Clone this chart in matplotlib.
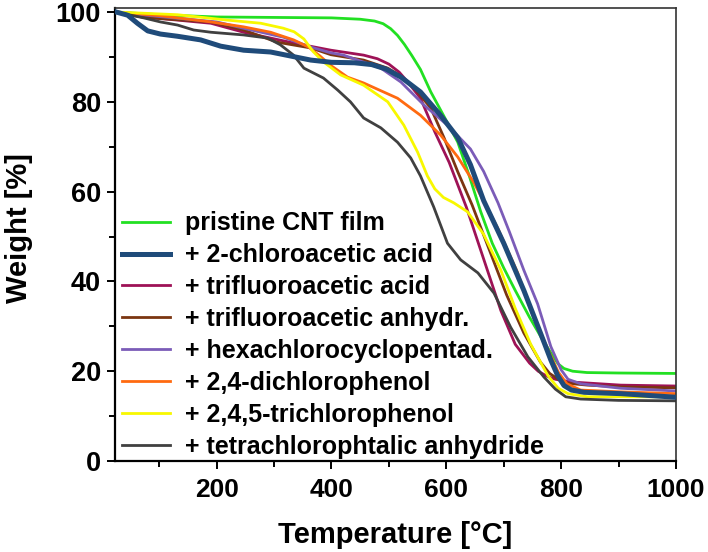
"""TGA curves of pristine and doped CNT films."""
import matplotlib
matplotlib.use("Agg")
import matplotlib.pyplot as plt
from matplotlib.ticker import MultipleLocator

plt.rcParams["font.family"] = ["Liberation Sans", "DejaVu Sans"]
plt.rcParams["font.weight"] = "bold"

LABELS = [
    "pristine CNT film",
    "+ 2-chloroacetic acid",
    "+ trifluoroacetic acid",
    "+ trifluoroacetic anhydr.",
    "+ hexachlorocyclopentad.",
    "+ 2,4-dichlorophenol",
    "+ 2,4,5-trichlorophenol",
    "+ tetrachlorophtalic anhydride",
]
COLORS = ["#22e022", "#1f4b7a", "#9e1256", "#7b3511", "#7b5cb8",
          "#ff6a10", "#f8f800", "#404040"]
WIDTHS = [2.0, 3.6, 2.0, 2.0, 2.0, 2.0, 2.0, 2.0]

# temperature [C] / weight [%]
t_pristine = [25, 100, 200, 300, 400, 450, 475, 490, 503, 515, 527, 540, 555,
              573, 595, 620, 640, 660, 680, 700, 720, 745, 770, 785, 795, 805,
              820, 845, 900, 1000]
w_pristine = [100, 99.4, 98.9, 98.8, 98.7, 98.4, 98.0, 97.4, 96.3, 94.8, 92.8,
              90.3, 87.2, 82.2, 77, 71, 63.5, 55.5, 48.5, 43, 38, 32, 26.5, 23.5,
              21.6, 20.6, 20.0, 19.7, 19.6, 19.5]

t_chloroacetic = [25, 45, 62, 80, 102, 132, 172, 207, 247, 294, 329, 364, 400,
                  440, 470, 495, 521, 555, 590, 620, 642, 665, 700, 735, 764,
                  782, 794, 805, 818, 840, 904, 1000]
w_chloroacetic = [100, 99.3, 97.5, 95.8, 95.1, 94.6, 93.8, 92.4, 91.5, 91.1,
                  90.2, 89.3, 88.8, 88.7, 88.3, 87.3, 85.5, 82.2, 77, 72, 66,
                  58, 48.5, 38, 28.5, 22.5, 19.0, 16.8, 15.8, 15.3, 15.0, 14.2]

t_tfa = [25, 73, 132, 190, 247, 294, 334, 399, 456, 480, 500, 518, 533, 555,
         580, 605, 635, 665, 695, 720, 745, 760, 775, 790, 817, 904, 1000]
w_tfa = [100, 98.9, 98.2, 97.5, 95.5, 94.2, 93.1, 91.5, 90.4, 89.6, 88.4, 86.6,
         84.4, 80.8, 73.3, 66.5, 56.5, 45, 33.5, 26, 21.8, 20.0, 18.9, 18.2,
         17.6, 16.9, 16.7]

t_tfaa = [25, 73, 190, 247, 305, 364, 399, 456, 498, 520, 543, 573, 596, 620,
          645, 675, 705, 735, 764, 780, 795, 812, 846, 904, 1000]
w_tfaa = [100, 98.8, 97.8, 96, 93.3, 92, 90.5, 89.3, 87.5, 85.8, 83.3, 78.6,
          72, 64.4, 57, 47, 37, 28.5, 22, 19.5, 18.2, 17.3, 16.9, 16.5, 16.3]

t_hexa = [25, 100, 200, 260, 316, 364, 399, 421, 486, 521, 561, 602, 642, 665,
          690, 710, 735, 759, 782, 800, 812, 834, 904, 1000]
w_hexa = [100, 99, 97.8, 96, 94.4, 92.2, 90.9, 90.4, 87.5, 84.4, 79.3, 74.8,
          69.5, 64.5, 57.5, 51, 42.5, 35, 25.5, 20.3, 18.2, 17.2, 16.2, 15.6]

t_dcp = [25, 100, 190, 247, 294, 334, 360, 380, 400, 428, 456, 515, 555, 590,
         620, 648, 689, 724, 752, 780, 795, 810, 834, 904, 1000]
w_dcp = [100, 99.2, 97.8, 96.7, 95.5, 93.8, 92.2, 90.2, 88, 85.5, 84.2, 80.8,
         77, 72.6, 67.7, 62, 52, 42, 32, 24, 19.8, 17.2, 15.8, 15.4, 15]

t_tcp = [25, 132, 219, 277, 316, 335, 352, 368, 386, 416, 456, 498, 526, 550,
         567, 580, 595, 613, 637, 665, 695, 720, 747, 777, 795, 812, 846, 1000]
w_tcp = [100, 99.4, 98.2, 97.5, 96.4, 95.6, 94.0, 91.2, 88.9, 86, 83.7, 80,
         74.8, 68.8, 63.5, 60.6, 58.7, 57.5, 55.5, 50.5, 42.5, 34, 26, 19,
         16.2, 15.0, 14.3, 14.3]

t_tcpa = [25, 73, 102, 132, 160, 190, 247, 289, 311, 334, 352, 386, 411, 433,
          456, 486, 515, 538, 555, 578, 602, 625, 655, 683, 712, 742, 770, 790,
          808, 834, 900, 1000]
w_tcpa = [100, 98.7, 97.8, 97.1, 96, 95.5, 94.9, 94.2, 92.7, 90.4, 87.5, 85.3,
          82.6, 80, 76.4, 74.2, 71, 67.5, 63.5, 56.6, 48.5, 44.8, 41.9, 37.4,
          29.8, 23.2, 18.7, 16.0, 14.3, 13.8, 13.5, 13.4]

SERIES = [
    (t_pristine, w_pristine),
    (t_chloroacetic, w_chloroacetic),
    (t_tfa, w_tfa),
    (t_tfaa, w_tfaa),
    (t_hexa, w_hexa),
    (t_dcp, w_dcp),
    (t_tcp, w_tcp),
    (t_tcpa, w_tcpa),
]

fig = plt.figure(figsize=(7.08, 5.52), dpi=100)
ax = fig.add_axes([115 / 708, 1 - 461 / 552, 561 / 708, 453 / 552])

for (t, w), label, color, lw in zip(SERIES, LABELS, COLORS, WIDTHS):
    ax.plot(t, w, color=color, lw=lw, label=label,
            zorder=3 if lw > 3 else 2, solid_joinstyle="round")

ax.set_xlim(23, 1000)
ax.set_ylim(0, 100.9)
ax.xaxis.set_major_locator(MultipleLocator(200))
ax.xaxis.set_minor_locator(MultipleLocator(100))
ax.yaxis.set_major_locator(MultipleLocator(20))
ax.yaxis.set_minor_locator(MultipleLocator(10))
ax.tick_params(which="both", direction="out", width=1.4, top=False, right=False)
ax.tick_params(which="major", length=6)
ax.tick_params(which="minor", length=4)
ax.tick_params(axis="x", labelsize=19, pad=6)
ax.tick_params(axis="y", labelsize=19.5, pad=4)
for side in ["left", "bottom"]:
    ax.spines[side].set_linewidth(1.6)
for side in ["top", "right"]:
    ax.spines[side].set_linewidth(1.2)
    ax.spines[side].set_color("#333333")

ax.set_xlabel("Temperature [°C]", fontsize=21, fontweight="bold")
ax.set_ylabel("Weight [%]", fontsize=21, fontweight="bold")
ax.xaxis.set_label_coords(0.5, -0.1325)
ax.yaxis.set_label_coords(-0.146, 0.515)

ax.legend(loc="upper left", bbox_to_anchor=(0.0125, 0.551), frameon=False,
          fontsize=18, handlelength=1.92, handletextpad=0.6,
          labelspacing=0.315, borderpad=0, borderaxespad=0)

fig.savefig("out.png", dpi=100)
